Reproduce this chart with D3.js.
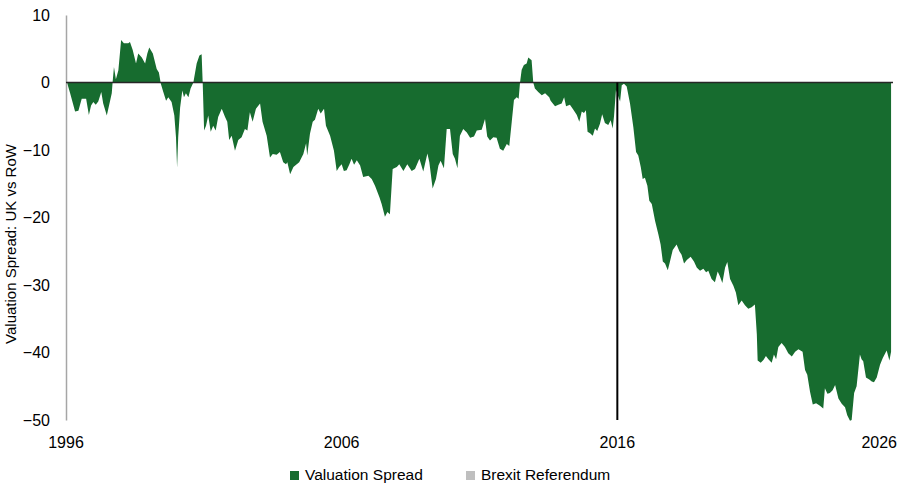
<!DOCTYPE html>
<html>
<head>
<meta charset="utf-8">
<script src="https://cdn.jsdelivr.net/npm/d3@7"></script>
<style>
  body { margin: 0; background: #fff; }
  text { font-family: "Liberation Sans", Arial, sans-serif; fill: #000; }
</style>
</head>
<body>
<div id="chart"></div>
<script>
var svgWidth = 903;
var svgHeight = 484;

var margin = { top: 15, right: 10, bottom: 64, left: 66 };
var width = svgWidth - margin.left - margin.right;
var height = svgHeight - margin.top - margin.bottom;

// fractional years
var years = [
  1996.00, 1996.05, 1996.15, 1996.33, 1996.45, 1996.57, 1996.73, 1996.83, 1996.91, 1996.99,
  1997.08, 1997.17, 1997.28, 1997.35, 1997.48, 1997.60, 1997.66, 1997.69, 1997.74, 1997.81,
  1997.90, 1998.00, 1998.10, 1998.26, 1998.32, 1998.42, 1998.54, 1998.62, 1998.75, 1998.87,
  1998.95, 1999.02, 1999.15, 1999.29, 1999.37, 1999.44, 1999.53, 1999.63, 1999.71, 1999.83,
  1999.93, 1999.99, 2000.03, 2000.07, 2000.14, 2000.22, 2000.28, 2000.35, 2000.44, 2000.52,
  2000.62, 2000.74, 2000.84, 2000.92, 2000.96, 2001.01, 2001.08, 2001.16, 2001.25, 2001.34,
  2001.43, 2001.52, 2001.65, 2001.77, 2001.85, 2001.92, 2002.01, 2002.13, 2002.25, 2002.37,
  2002.49, 2002.58, 2002.67, 2002.77, 2002.89, 2003.04, 2003.13, 2003.28, 2003.40, 2003.50,
  2003.64, 2003.76, 2003.88, 2003.98, 2004.03, 2004.13, 2004.25, 2004.37, 2004.46, 2004.61,
  2004.71, 2004.75, 2004.85, 2004.95, 2005.03, 2005.15, 2005.24, 2005.36, 2005.43, 2005.58,
  2005.72, 2005.82, 2005.91, 2006.00, 2006.08, 2006.18, 2006.28, 2006.36, 2006.45, 2006.55,
  2006.67, 2006.78, 2006.97, 2007.09, 2007.21, 2007.37, 2007.45, 2007.57, 2007.66, 2007.75,
  2007.85, 2008.00, 2008.09, 2008.24, 2008.38, 2008.54, 2008.66, 2008.82, 2008.96, 2009.11,
  2009.18, 2009.30, 2009.42, 2009.51, 2009.59, 2009.71, 2009.81, 2009.93, 2010.03, 2010.11,
  2010.20, 2010.29, 2010.41, 2010.54, 2010.66, 2010.80, 2010.90, 2011.08, 2011.20, 2011.28,
  2011.38, 2011.50, 2011.62, 2011.74, 2011.86, 2011.99, 2012.08, 2012.17, 2012.25, 2012.35,
  2012.42, 2012.47, 2012.53, 2012.61, 2012.71, 2012.77, 2012.89, 2012.95, 2013.01, 2013.13,
  2013.26, 2013.38, 2013.53, 2013.58, 2013.74, 2013.86, 2013.98, 2014.07, 2014.14, 2014.28,
  2014.40, 2014.53, 2014.62, 2014.71, 2014.79, 2014.86, 2014.92, 2015.01, 2015.11, 2015.19,
  2015.27, 2015.37, 2015.45, 2015.55, 2015.67, 2015.76, 2015.83, 2015.88, 2015.95, 2016.10,
  2016.16, 2016.24, 2016.34, 2016.46, 2016.58, 2016.68, 2016.76, 2016.85, 2016.92, 2017.00,
  2017.09, 2017.16, 2017.25, 2017.37, 2017.49, 2017.57, 2017.65, 2017.73, 2017.83, 2017.91,
  2018.01, 2018.15, 2018.25, 2018.33, 2018.42, 2018.52, 2018.66, 2018.78, 2018.88, 2019.00,
  2019.12, 2019.22, 2019.30, 2019.42, 2019.54, 2019.64, 2019.72, 2019.81, 2019.91, 2019.99,
  2020.09, 2020.21, 2020.30, 2020.39, 2020.51, 2020.63, 2020.75, 2020.87, 2020.99, 2021.06,
  2021.09, 2021.20, 2021.30, 2021.39, 2021.48, 2021.60, 2021.68, 2021.76, 2021.84, 2021.96,
  2022.08, 2022.20, 2022.33, 2022.45, 2022.57, 2022.72, 2022.81, 2022.89, 2022.99, 2023.09,
  2023.21, 2023.35, 2023.47, 2023.53, 2023.62, 2023.71, 2023.81, 2023.90, 2024.02, 2024.14,
  2024.26, 2024.34, 2024.44, 2024.50, 2024.59, 2024.68, 2024.80, 2024.86, 2024.92, 2025.02,
  2025.14, 2025.23, 2025.31, 2025.41, 2025.53, 2025.63, 2025.77, 2025.87, 2025.93
];

var spread = [
   1.0, -0.2, -1.6, -4.3, -4.2, -2.4, -2.4, -4.8, -3.4, -2.9,
  -3.3, -2.8, -1.4, -3.1, -4.9, -2.7, -1.6,  0.0,  2.3,  0.5,
   1.8,  6.3,  5.8,  5.8,  6.0,  4.8,  2.8,  4.3,  3.7,  2.8,
   4.3,  5.2,  4.3,  2.0,  1.5, -0.2, -1.4, -2.7, -2.2, -2.9,
  -4.9, -8.1, -12.6, -8.1, -3.7, -1.2, -2.2, -1.6, -2.2, -0.9,
   0.0,  2.8,  4.0,  4.2, -0.2, -7.1, -6.4, -4.9, -7.3, -6.4,
  -7.1, -5.1, -3.9, -5.1, -5.8, -8.5, -7.9, -10.1, -8.5, -8.1,
  -6.9, -7.1, -4.4, -5.8, -3.9, -3.1, -5.8, -7.9, -11.1, -10.6,
  -10.7, -10.3, -11.8, -12.1, -11.8, -13.6, -12.5, -12.1, -11.8, -10.6,
  -9.0, -10.8, -7.6, -5.8, -5.5, -3.9, -4.6, -3.9, -6.4, -7.9,
  -10.1, -13.1, -12.5, -12.1, -13.1, -13.0, -12.1, -11.3, -12.2, -11.5,
  -12.3, -14.0, -13.8, -14.3, -15.3, -17.0, -18.0, -19.9, -19.2, -19.5,
  -12.8, -12.5, -12.1, -13.1, -12.1, -13.1, -12.8, -11.3, -13.2, -10.5,
  -11.8, -15.7, -14.3, -12.3, -11.6, -12.7, -6.9, -6.9, -10.6, -11.3,
  -12.7, -7.9, -6.9, -7.4, -8.2, -8.0, -7.1, -7.0, -5.4, -8.0,
  -8.6, -8.1, -8.2, -9.8, -10.1, -9.1, -9.4, -5.8, -2.6, -2.2,
  -2.4,  0.0,  1.9,  2.6,  2.8,  3.7,  3.3,  0.0, -0.9, -1.4,
  -1.9, -1.6, -2.2, -2.7, -3.5, -3.3, -3.1, -2.2, -3.5, -3.3,
  -4.0, -4.8, -5.8, -4.3, -4.5, -4.1, -7.3, -7.5, -7.9, -6.8,
  -7.2, -6.1, -4.7, -6.0, -6.3, -5.6, -6.8, -5.0, -1.1, -2.8,
  -0.4, -0.2, -0.6, -3.1, -6.6, -10.3, -10.8, -12.5, -14.3, -14.1,
  -15.3, -17.5, -18.0, -20.5, -22.5, -24.0, -26.5, -26.8, -27.8, -26.5,
  -24.8, -24.0, -25.0, -25.5, -26.8, -26.3, -25.8, -26.5, -27.4, -27.9,
  -27.6, -28.1, -27.9, -29.1, -29.6, -28.0, -28.7, -29.7, -27.4, -26.6,
  -29.1, -30.1, -31.1, -33.0, -32.3, -33.0, -33.5, -33.3, -32.9, -37.3,
  -41.2, -41.5, -41.1, -40.5, -41.0, -41.5, -40.3, -41.0, -39.2, -38.6,
  -39.2, -40.1, -40.6, -39.9, -39.5, -39.9, -42.6, -43.3, -45.8, -47.7,
  -47.5, -47.9, -48.3, -45.3, -46.1, -46.0, -45.6, -44.8, -46.8, -47.6,
  -48.1, -49.3, -50.1, -50.0, -46.0, -45.0, -40.3, -41.0, -41.3, -43.7,
  -44.0, -44.3, -44.4, -43.7, -41.8, -40.8, -39.7, -41.2, -39.9
];

var xTickYears = [1996, 2006, 2016, 2026];
var xTickLabels = ["1996", "2006", "2016", "2026"];
var yTicks = [10, 0, -10, -20, -30, -40, -50];
var brexitYear = 2016.0;
var seriesNames = ["Valuation Spread", "Brexit Referendum"];
var seriesColors = ["#176c2f", "#bfbfbf"];

var data = years.map(function(y, i) { return { year: y, value: spread[i] }; });

var svg = d3.select("#chart")
    .append("svg")
    .attr("width", svgWidth)
    .attr("height", svgHeight);

var chartGroup = svg.append("g")
    .attr("transform", `translate(${margin.left}, ${margin.top})`);

var xScale = d3.scaleLinear()
    .domain([1996, 2026])
    .range([0, width]);

var yScale = d3.scaleLinear()
    .domain([-50, 10])
    .range([height, 0]);

// area of the spread against zero
var area = d3.area()
    .x(d => xScale(d.year))
    .y0(yScale(0))
    .y1(d => yScale(d.value));

chartGroup.append("path")
    .datum(data)
    .attr("fill", seriesColors[0])
    .attr("d", area);

// y axis
var leftAxis = d3.axisLeft(yScale)
    .tickValues(yTicks)
    .tickSize(0)
    .tickPadding(16);

var yAxisG = chartGroup.append("g").call(leftAxis);
yAxisG.select(".domain").attr("stroke", "#a6a6a6").attr("stroke-width", 1.5);
yAxisG.selectAll("text")
    .attr("font-size", "16px")
    .attr("font-family", "Liberation Sans, Arial, sans-serif")
    .attr("fill", "#000");

// zero line
chartGroup.append("line")
    .attr("x1", 0)
    .attr("x2", width)
    .attr("y1", yScale(0))
    .attr("y2", yScale(0))
    .attr("stroke", "#262626")
    .attr("stroke-width", 1.5);

// brexit marker
chartGroup.append("line")
    .attr("x1", xScale(brexitYear))
    .attr("x2", xScale(brexitYear))
    .attr("y1", yScale(0))
    .attr("y2", yScale(-50))
    .attr("stroke", "#000")
    .attr("stroke-width", 2);

// x labels
chartGroup.selectAll(".xlabel")
    .data(xTickYears)
    .enter()
    .append("text")
    .attr("class", "xlabel")
    .attr("x", (d, i) => i === xTickYears.length - 1 ? xScale(d) + 4 : xScale(d))
    .attr("y", height + 28)
    .attr("text-anchor", (d, i) => i === xTickYears.length - 1 ? "end" : "middle")
    .attr("font-size", "16px")
    .text((d, i) => xTickLabels[i]);

// y axis title
svg.append("text")
    .attr("transform", "translate(16, 244) rotate(-90)")
    .attr("text-anchor", "middle")
    .attr("font-size", "15px")
    .text("Valuation Spread: UK vs RoW");

// legend
var legendX = [290, 466];
var legend = svg.selectAll(".legend")
    .data(seriesNames)
    .enter()
    .append("g")
    .attr("class", "legend")
    .attr("transform", (d, i) => `translate(${legendX[i]}, 471)`);

legend.append("rect")
    .attr("width", 9)
    .attr("height", 9)
    .attr("fill", (d, i) => seriesColors[i]);

legend.append("text")
    .attr("x", 15)
    .attr("y", 9)
    .attr("font-size", "15.5px")
    .text(d => d);
</script>
</body>
</html>
